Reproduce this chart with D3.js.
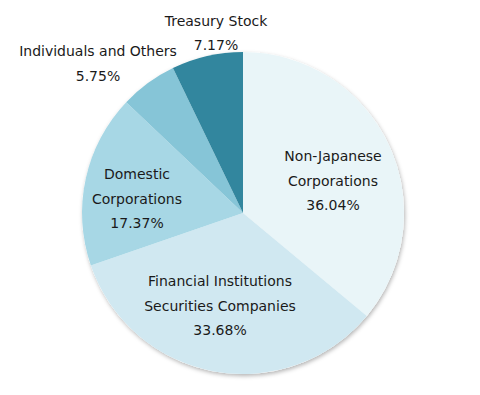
<!DOCTYPE html>
<html><head><meta charset="utf-8">
<script src="https://cdn.jsdelivr.net/npm/d3@7"></script>
<style>html,body{margin:0;padding:0;background:#fff;}</style>
</head><body>
<svg id="chart" width="480" height="395"></svg>
<script>
const categories = ["Non-Japanese Corporations", "Financial Institutions Securities Companies", "Domestic Corporations", "Individuals and Others", "Treasury Stock"];
const labelLines = [["Non-Japanese", "Corporations"], ["Financial Institutions", "Securities Companies"], ["Domestic", "Corporations"], ["Individuals and Others"], ["Treasury Stock"]];
const values = [36.04, 33.68, 17.37, 5.75, 7.17];
const valueLabels = ["36.04%", "33.68%", "17.37%", "5.75%", "7.17%"];
const colors = ["#e9f5f8", "#d0e8f1", "#a7d7e5", "#86c5d7", "#32869e"];

const svg = d3.select("#chart");
const cx = 243, cy = 213, r = 161;
const defs = svg.append("defs");
const f = defs.append("filter").attr("id","sh").attr("x","-10%").attr("y","-10%").attr("width","120%").attr("height","120%");
f.append("feDropShadow").attr("dx",1).attr("dy",2).attr("stdDeviation",2).attr("flood-color","#000").attr("flood-opacity",0.3);

const pie = d3.pie().sort(null).value(d => d);
const arcs = pie(values);
const arc = d3.arc().innerRadius(0).outerRadius(r);
const g = svg.append("g").attr("transform", `translate(${cx},${cy})`);
g.append("circle").attr("r", r).attr("fill", "#fff").attr("filter","url(#sh)");
g.selectAll("path").data(arcs).enter().append("path")
  .attr("d", arc).attr("fill", (d,i) => colors[i]);

// label anchor positions (relative to centre) for each slice
const labelPos = [[90, -52], [-23, 73], [-106, -34], [-145, -157], [-27, -187.5]];
const lineH = 24.5;
labelLines.forEach((lines, i) => {
  const all = lines.concat([valueLabels[i]]);
  const t = g.append("text").attr("text-anchor","middle")
    .attr("font-family","DejaVu Sans, sans-serif").attr("font-size",14).attr("fill","#1a1a1a");
  all.forEach((s, j) => {
    t.append("tspan").attr("x", labelPos[i][0]).attr("y", labelPos[i][1] + j*lineH).text(s);
  });
});
</script>
</body></html>
